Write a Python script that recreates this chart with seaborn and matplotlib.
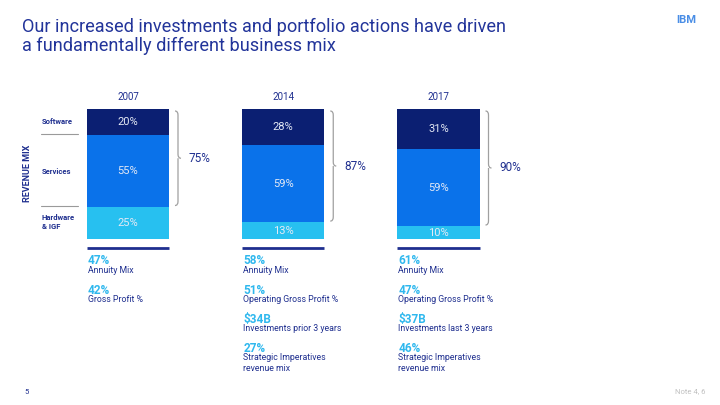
import matplotlib
matplotlib.use('Agg')
import matplotlib.pyplot as plt
from matplotlib.path import Path
from matplotlib.patches import PathPatch
import seaborn as sns
import pandas as pd

# Revenue mix per year (%)
years = ['2007', '2014', '2017']
software = [20, 28, 31]
services = [55, 59, 59]
hardware = [25, 13, 10]

# Metrics below each bar: (value, label)
metrics = [
    [('47%', 'Annuity Mix'), ('42%', 'Gross Profit %')],
    [('58%', 'Annuity Mix'), ('51%', 'Operating Gross Profit %'),
     ('$34B', 'Investments prior 3 years'), ('27%', 'Strategic Imperatives\nrevenue mix')],
    [('61%', 'Annuity Mix'), ('47%', 'Operating Gross Profit %'),
     ('$37B', 'Investments last 3 years'), ('46%', 'Strategic Imperatives\nrevenue mix')],
]

NAVY = '#1f2f8f'
C_SW = '#0b1f72'
C_SV = '#0a72ea'
C_HW = '#27c0f0'
CYAN = '#2fb8ee'

sns.set_theme(style='white')
plt.rcParams['font.family'] = ['Roboto', 'DejaVu Sans']

W, H = 720, 405
fig = plt.figure(figsize=(7.2, 4.05), dpi=100)
ax = fig.add_axes([0, 0, 1, 1])

# pixel mapping: bar centres at 128 / 283 / 438, y=0 at px 239, 100 at px 109
X0, XS = 128, 155.25
Y0, YS = 239, 1.3

df = pd.DataFrame({'year': years, 'software': software,
                   'services': services, 'hardware': hardware})
df['top'] = df['software'] + df['services'] + df['hardware']
df['mid'] = df['services'] + df['hardware']

# stacked bars: draw cumulative layers back to front
sns.barplot(data=df, x='year', y='top', color=C_SW, width=0.53, ax=ax,
            saturation=1, linewidth=0)
sns.barplot(data=df, x='year', y='mid', color=C_SV, width=0.53, ax=ax,
            saturation=1, linewidth=0)
sns.barplot(data=df, x='year', y='hardware', color=C_HW, width=0.53, ax=ax,
            saturation=1, linewidth=0)
ax.set_xlim(-X0 / XS, (W - X0) / XS)
ax.set_ylim(-(H - Y0) / YS, Y0 / YS)
ax.axis('off')


def fx(px):
    return px / W


def fy(py):
    return 1 - py / H


def py_of(v):
    return Y0 - v * YS


def px_of(x):
    return X0 + x * XS


# segment labels, year labels, underlines
for i in range(len(years)):
    hw, sv, sw = hardware[i], services[i], software[i]
    for lo, val in [(0, hw), (hw, sv), (hw + sv, sw)]:
        ax.text(i, lo + val / 2, f'{val}%', ha='center', va='center',
                color='#e4e9f5', fontsize=8)
    ax.text(i, 100 + 5.5, years[i], ha='center', va='bottom', color=NAVY, fontsize=7)
    ax.plot([i - 0.265, i + 0.265], [-7, -7], color=NAVY, lw=2, solid_capstyle='butt')


def brace(x, ytop, ybot, w=6, r=4):
    ym = (ytop + ybot) / 2
    s = x + w / 2
    verts = [(x, ytop), (s, ytop), (s, ytop + r),
             (s, ym - r), (s, ym), (x + w, ym),
             (s, ym), (s, ym + r), (s, ym + r),
             (s, ybot - r), (s, ybot), (x, ybot)]
    codes = [Path.MOVETO, Path.CURVE3, Path.CURVE3,
             Path.LINETO, Path.CURVE3, Path.CURVE3,
             Path.MOVETO, Path.CURVE3, Path.CURVE3,
             Path.LINETO, Path.CURVE3, Path.CURVE3]
    verts = [(fx(a), fy(b)) for a, b in verts]
    fig.add_artist(PathPatch(Path(verts, codes), transform=fig.transFigure,
                             fill=False, ec='#a0a0a0', lw=0.9))
    return ym


for i in range(len(years)):
    bx = px_of(i) + 47
    ym = brace(bx, py_of(100) + 2, py_of(hardware[i]) - 1)
    total = software[i] + services[i]
    fig.text(fx(bx + 14), fy(ym), f'{total}%', ha='left', va='center',
             color=NAVY, fontsize=8.5)

# metrics
row_y = [261, 290, 319, 348]
for i, col in enumerate(metrics):
    x = px_of(i) - 40
    for j, (val, lab) in enumerate(col):
        fig.text(fx(x), fy(row_y[j]), val, ha='left', va='center',
                 color=CYAN, fontsize=8.5, fontweight='bold')
        fig.text(fx(x), fy(row_y[j] + 5), lab, ha='left', va='top',
                 color=NAVY, fontsize=6.3, linespacing=1.25)

# left side labels
lab_kw = dict(ha='left', va='center', color=NAVY, fontsize=5.5, fontweight='bold')
fig.text(fx(42), fy(121), 'Software', **lab_kw)
fig.text(fx(42), fy(171), 'Services', **lab_kw)
fig.text(fx(42), fy(222), 'Hardware\n& IGF', linespacing=1.2, **lab_kw)
for yy in (134, 206):
    fig.add_artist(plt.Line2D([fx(41), fx(78)], [fy(yy), fy(yy)],
                              color='#9a9a9a', lw=0.8))
fig.text(fx(27), fy(173), 'REVENUE MIX', rotation=90, ha='center', va='center',
         color=NAVY, fontsize=6.5, fontweight='bold')

# title and footer
fig.text(fx(22), fy(18), 'Our increased investments and portfolio actions have driven\n'
         'a fundamentally different business mix', ha='left', va='top',
         color='#22349a', fontsize=13.1, linespacing=1.08)
fig.text(fx(686), fy(20), 'IBM', ha='center', va='center', color='#4a8ee6',
         fontsize=8, fontweight='bold')
fig.text(fx(24), fy(392), '5', ha='left', va='center', color=NAVY, fontsize=5.5)
fig.text(fx(705), fy(391), 'Note 4, 6', ha='right', va='center', color='#c0c0c0',
         fontsize=5.5)

fig.savefig('out.png', dpi=100)
